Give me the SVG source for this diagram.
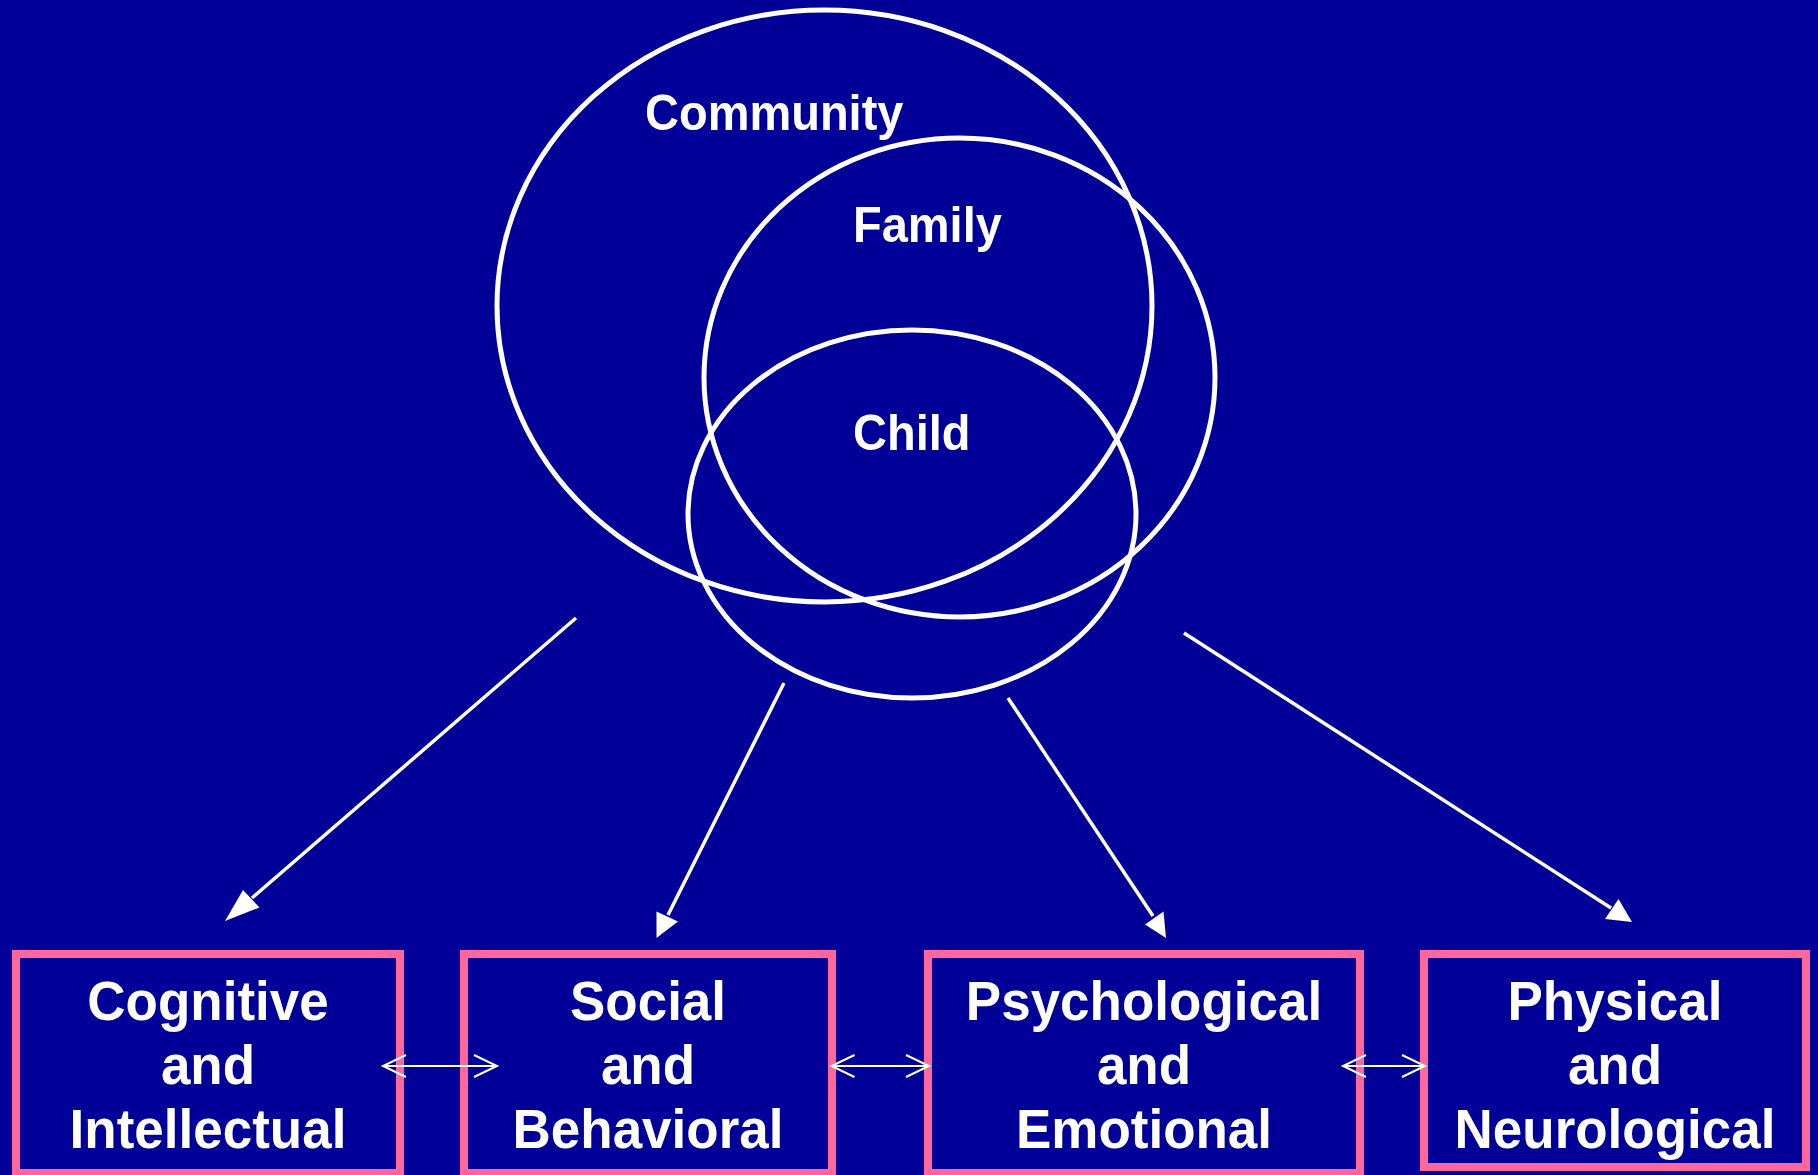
<svg xmlns="http://www.w3.org/2000/svg" width="1818" height="1175" viewBox="0 0 1818 1175">
  <defs>
    <style>
      .bg { fill: #000099; }
      .ring { fill: none; stroke: #FFFFFF; stroke-width: 5; }
      .box { fill: #000099; stroke: #FF6699; stroke-width: 8; }
      .lbl { font-family: "Liberation Sans", Arial, Helvetica, sans-serif; font-weight: bold; fill: #FFFFFF; }
      .ring-lbl { font-size: 47px; }
      .box-lbl { font-size: 53px; text-anchor: middle; }
      .down { stroke: #FFFFFF; stroke-width: 3.5; fill: none; }
      .head { fill: #FFFFFF; stroke: none; }
      .link { stroke: #FFFFFF; stroke-width: 2; fill: none; marker-start: url(#open); marker-end: url(#open); }
    </style>
    <marker id="open" markerUnits="userSpaceOnUse" viewBox="-26 -14 30 28" refX="0" refY="0" markerWidth="30" markerHeight="28" orient="auto-start-reverse">
      <path d="M-23,-11 L0,0 L-23,11" fill="none" stroke="#FFFFFF" stroke-width="2"/>
    </marker>
  </defs>

  <rect class="bg" x="0" y="0" width="1818" height="1175"/>

  <g id="community">
    <ellipse class="ring" cx="824.5" cy="306" rx="327.5" ry="296"/>
    <text class="lbl ring-lbl" transform="matrix(1,0,0,1.05,645,130)">Community</text>
  </g>
  <g id="family">
    <ellipse class="ring" cx="959.5" cy="377.5" rx="255.5" ry="239.5"/>
    <text class="lbl ring-lbl" transform="matrix(1,0,0,1.05,853,242)">Family</text>
  </g>
  <g id="child">
    <ellipse class="ring" cx="912" cy="514" rx="224" ry="184"/>
    <text class="lbl ring-lbl" transform="matrix(1,0,0,1.05,853,450)">Child</text>
  </g>

  <g id="cognitive">
    <rect class="box" x="16" y="954" width="384" height="219"/>
    <text class="lbl box-lbl" transform="matrix(1,0,0,1.055,208,1020)"><tspan x="0" y="0">Cognitive</tspan><tspan x="0" y="60.7">and</tspan><tspan x="0" y="121.3">Intellectual</tspan></text>
  </g>
  <g id="social">
    <rect class="box" x="464" y="954" width="368" height="219"/>
    <text class="lbl box-lbl" transform="matrix(1,0,0,1.055,648,1020)"><tspan x="0" y="0">Social</tspan><tspan x="0" y="60.7">and</tspan><tspan x="0" y="121.3">Behavioral</tspan></text>
  </g>
  <g id="psychological">
    <rect class="box" x="928" y="954" width="432" height="219"/>
    <text class="lbl box-lbl" transform="matrix(1,0,0,1.055,1144,1020)"><tspan x="0" y="0">Psychological</tspan><tspan x="0" y="60.7">and</tspan><tspan x="0" y="121.3">Emotional</tspan></text>
  </g>
  <g id="physical">
    <rect class="box" x="1424" y="954" width="382" height="213"/>
    <text class="lbl box-lbl" transform="matrix(1,0,0,1.055,1615,1020)"><tspan x="0" y="0">Physical</tspan><tspan x="0" y="60.7">and</tspan><tspan x="0" y="121.3">Neurological</tspan></text>
  </g>

  <g id="connectors">
    <line class="down" x1="576" y1="618" x2="252" y2="898"/>
    <polygon class="head" points="225,921 243,890 259.5,907.5"/>
    <line class="down" x1="784" y1="683" x2="668" y2="915"/>
    <polygon class="head" points="656.5,938 656.5,911.5 678,921.5"/>
    <line class="down" x1="1008" y1="698" x2="1153" y2="916"/>
    <polygon class="head" points="1166,938 1145,924.5 1163.5,911.5"/>
    <line class="down" x1="1184" y1="633" x2="1611" y2="908"/>
    <polygon class="head" points="1632,922 1605,919 1618.5,899"/>

    <line class="link" x1="383" y1="1066" x2="497" y2="1066"/>
    <line class="link" x1="831.5" y1="1066" x2="929" y2="1066"/>
    <line class="link" x1="1343" y1="1066" x2="1425" y2="1066"/>
  </g>
</svg>
